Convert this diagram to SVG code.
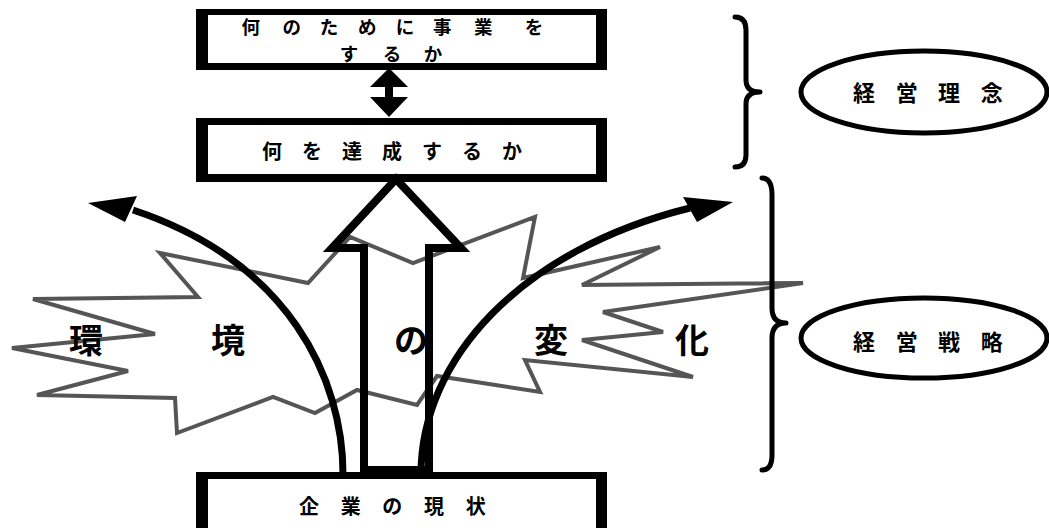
<svg xmlns="http://www.w3.org/2000/svg" width="1049" height="528" viewBox="0 0 1049 528">
<style>
.frame{fill:#000}
.inner{fill:#fff}
.t{font-family:"Noto Sans CJK JP","Noto Sans CJK SC",sans-serif;font-weight:700;fill:#000}
.bx{font-size:20px}
.bx1{font-size:18.5px}
.el{font-size:22px}
.big{font-size:34px}
.ell{fill:#fff;stroke:#000;stroke-width:5}
.brace{fill:none;stroke:#000;stroke-width:5;stroke-linecap:round;stroke-linejoin:round}
.curve{fill:none;stroke:#000;stroke-width:7}
</style>
<rect width="1049" height="528" fill="#fff"/>

<g id="box-purpose">
<rect class="frame" x="196" y="9" width="411" height="61"/>
<rect class="inner" x="208" y="15" width="388" height="48"/>
<text class="t bx1" y="33.5" x="250.7 291.7 329 367.3 405 442.3 483.3 534" text-anchor="middle">何のために事業を</text>
<text class="t bx1" y="60.5" x="349 392 433" text-anchor="middle">するか</text>
</g>

<g id="box-goal">
<rect class="frame" x="196" y="118" width="411" height="64"/>
<rect class="inner" x="208" y="125" width="388" height="49"/>
<text class="t bx" y="158.5" x="272 312 352 392 432 472 512" text-anchor="middle">何を達成するか</text>
</g>

<g id="box-current">
<rect class="frame" x="196" y="472" width="411" height="60"/>
<rect class="inner" x="208" y="479" width="388" height="53"/>
<text class="t bx" y="514" x="309 350.7 392.3 434 475.7" text-anchor="middle">企業の現状</text>
</g>

<g id="burst-environment">
<polygon fill="#fff" stroke="#555" stroke-width="4" stroke-linejoin="miter" points="160,253 308,283 350,237 413,263 535,217 523,278 660,247 582,285 803,283 603,312 663,332 582,340 693,377 525,360 540,392 437,376 417,405 357,390 315,413 273,397 177,433 175,398 37,395 128,371 12,348 155,334 33,299 198,297"/>
<text class="t big" y="353" text-anchor="middle"><tspan x="86">環</tspan><tspan x="228">境</tspan><tspan x="411">の</tspan><tspan x="551">変</tspan><tspan x="692">化</tspan></text>
</g>

<g id="brace-philosophy">
<path class="brace" d="M735,17 Q746,17 746,30 L746,80 Q746,92 760,92 Q746,92 746,104 L746,155 Q746,167 735,167"/>
</g>
<g id="brace-strategy">
<path class="brace" d="M762,178 Q772,178 772,195 L772,308 Q772,323 786,323 Q772,323 772,338 L772,455 Q772,470 762,470"/>
</g>

<g id="ellipse-philosophy">
<ellipse class="ell" cx="924" cy="92" rx="123" ry="41"/>
<text class="t el" y="101" x="864 906.7 949 991.7" text-anchor="middle">経営理念</text>
</g>
<g id="ellipse-strategy">
<ellipse class="ell" cx="924" cy="338" rx="123" ry="40"/>
<text class="t el" y="350" x="864 906.7 949 991.7" text-anchor="middle">経営戦略</text>
</g>

<g id="connectors">
<polygon fill="#000" points="389,68 408,87 393,87 393,97 408,97 389,117 370,97 385,97 385,87 370,87"/>
<polygon fill="none" stroke="#000" stroke-width="8" stroke-linejoin="miter" stroke-miterlimit="10" points="396,179 461,248 429,248 429,470 364,470 364,248 332,248"/>
<path class="curve" d="M343,474 C343,380 290,262 133,210"/>
<polygon fill="#000" points="88,203 137,196 125,222"/>
<path class="curve" d="M421,474 C421,360 520,250 690,208"/>
<polygon fill="#000" points="733,202 683,197 697,222"/>
</g>
</svg>
